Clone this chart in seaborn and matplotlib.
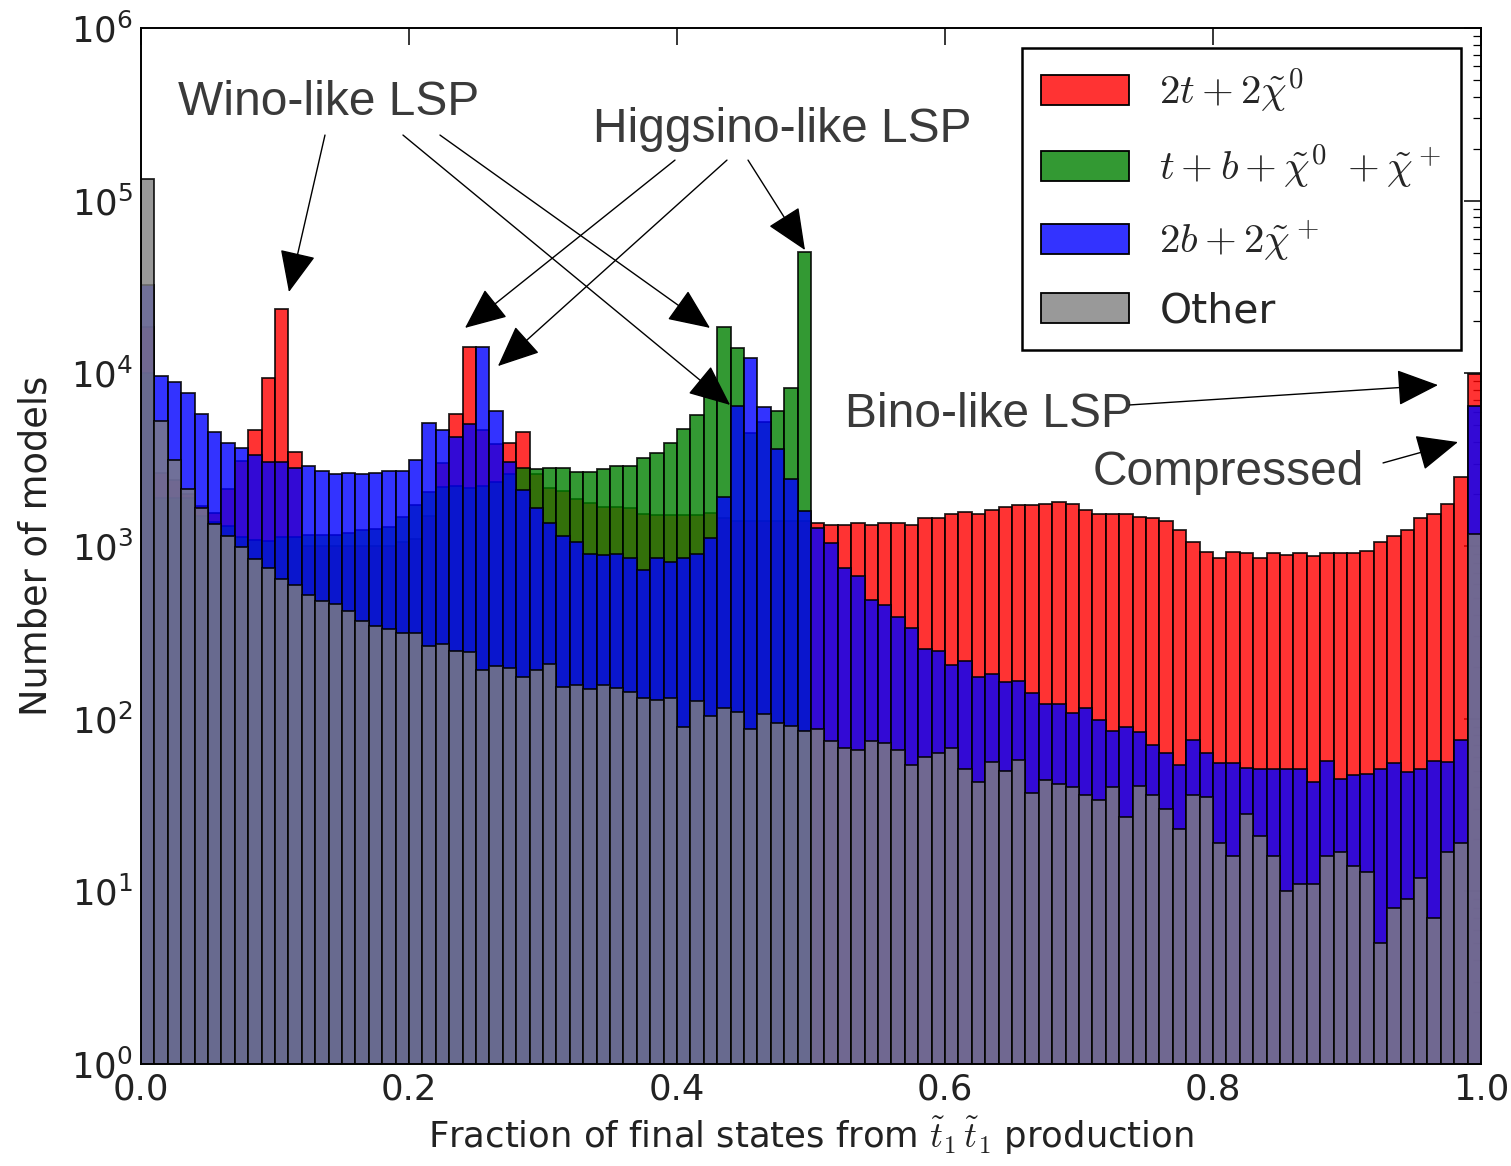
import numpy as np
import pandas as pd
import matplotlib
matplotlib.use("Agg")
import matplotlib.pyplot as plt
from matplotlib.patches import Patch
from matplotlib.colors import to_rgba
import seaborn as sns

# 100 equal bins over the stop-pair fraction
n_bins = 100
bin_edges = np.linspace(0.0, 1.0, n_bins + 1)
bin_centers = 0.5 * (bin_edges[:-1] + bin_edges[1:])

# Number of models per bin for each final-state class
counts_2t = [
    18600, 2640, 2400, 2000, 1700, 1560, 2130, 3120, 4700, 9440,
    23500, 3510, 1000, 1000, 1000, 1000, 1000, 1000, 1000, 1050,
    1100, 1500, 3030, 5800, 14200, 4700, 3875, 3940, 4590, 2600,
    2170, 2090, 1860, 1786, 1683, 1683, 1650, 1531, 1508, 1508,
    1508, 1508, 1545, 1450, 1400, 1400, 1400, 1400, 1400, 1400,
    1364, 1331, 1331, 1364, 1331, 1364, 1364, 1331, 1452, 1452,
    1531, 1566, 1531, 1615, 1683, 1720, 1720, 1760, 1788, 1760,
    1615, 1531, 1531, 1531, 1475, 1450, 1396, 1242, 1057, 927,
    857, 927, 905, 857, 905, 890, 905, 870, 905, 905,
    905, 940, 1057, 1141, 1242, 1450, 1531, 1760, 2495, 9960,
]
counts_tb = [
    10000, 1900, 1900, 1900, 1500, 1383, 1300, 1125, 1080, 1065,
    1125, 1125, 1155, 1155, 1155, 1194, 1238, 1250, 1294, 1466,
    1727, 2065, 2190, 2230, 2170, 2230, 2350, 2600, 2845, 2800,
    2845, 2845, 2690, 2690, 2800, 2910, 2910, 3245, 3450, 3970,
    4780, 5700, 7310, 18500, 14100, 4530, 5200, 6070, 8210, 50600,
] + [0] * 50
counts_2b = [
    32600, 9660, 8870, 7660, 5800, 4590, 3970, 3675, 3375, 3075,
    3075, 2845, 2890, 2735, 2610, 2630, 2610, 2630, 2735, 2735,
    3150, 5160, 4700, 4290, 5090, 14200, 6030, 3075, 2120, 1655,
    1364, 1142, 1057, 904, 891, 904, 857, 723, 857, 812,
    857, 904, 1109, 1932, 6450, 12190, 6410, 3650, 2440, 1592,
    1263, 1041, 745, 670, 487, 454, 386, 333, 254, 248,
    205, 216, 175, 182, 163, 166, 141, 121, 121, 108,
    115, 98, 85, 89, 84, 70, 63, 54, 75, 63,
    55, 55, 52, 51, 51, 51, 51, 43, 57, 45,
    47, 48, 51, 55, 49, 51, 57, 56, 75, 6510,
]
counts_other = [
    134000, 5280, 3150, 2150, 1655, 1343, 1142, 986, 838, 745,
    644, 591, 519, 480, 461, 418, 366, 345, 330, 313,
    313, 262, 272, 248, 243, 192, 202, 197, 175, 192,
    208, 152, 156, 148, 156, 150, 142, 131, 129, 131,
    89, 127, 104, 115, 110, 87, 106, 94, 91, 85,
    87, 74, 68, 66, 74, 72, 66, 54, 60, 63,
    68, 51, 43, 56, 50, 58, 37, 44, 42, 40,
    36, 34, 40, 27, 41, 36, 30, 23, 36, 35,
    19, 16, 28, 21, 16, 10, 11, 11, 16, 17,
    14, 13, 5, 8, 9, 12, 7, 17, 19, 1170,
]

series_labels = [
    r"$2t+2\tilde{\chi}^0$",
    r"$t+b+\tilde{\chi}^0\ +\tilde{\chi}^+$",
    r"$2b+2\tilde{\chi}^+$",
    "Other",
]
series_counts = [counts_2t, counts_tb, counts_2b, counts_other]
series_colors = ["red", "green", "blue", "grey"]

sns.set_style("white")
plt.rcParams["font.family"] = ["DejaVu Sans"]
plt.rcParams["mathtext.fontset"] = "cm"

fig = plt.figure(figsize=(15.11, 11.66), dpi=100)
ax = fig.add_axes([141 / 1511, 1 - 1064 / 1166, 1340 / 1511, 1036 / 1166])

for counts, color in zip(series_counts, series_colors):
    frame = pd.DataFrame({"fraction": bin_centers, "models": counts})
    sns.histplot(
        data=frame, x="fraction", weights="models",
        bins=n_bins, binrange=(0.0, 1.0), ax=ax,
        color=color, alpha=0.8, element="bars", fill=True,
        edgecolor=(0, 0, 0, 0.85), linewidth=1.3,
    )

ax.set_yscale("log")
ax.set_xlim(0, 1)
ax.set_ylim(1, 1e6)
ax.set_xticks(np.arange(0, 1.01, 0.2))
ax.set_xlabel(r"Fraction of final states from $\tilde{t}_1\,\tilde{t}_1$ production",
              fontsize=25.5, color="#222222", labelpad=6)
ax.set_ylabel("Number of models", fontsize=26.5, color="#222222", labelpad=12)

for sp in ax.spines.values():
    sp.set_color("black")
    sp.set_linewidth(1.4)
ax.tick_params(which="both", direction="in", top=True, right=True,
               colors="black", labelcolor="#222222")
ax.tick_params(which="major", length=12, width=1.1, labelsize=25.5, pad=6)
ax.tick_params(which="minor", length=6, width=0.9)

handles = [Patch(facecolor=to_rgba(c, 0.8), edgecolor="black", linewidth=1.3)
           for c in series_colors]
leg = ax.legend(handles, series_labels, loc="upper right", fontsize=29.5,
                frameon=True, fancybox=False, framealpha=1,
                handlelength=2.15, handleheight=0.75, handletextpad=0.75,
                labelspacing=0.68, borderpad=0.45, borderaxespad=0.5)
leg.get_frame().set_edgecolor("black")
leg.get_frame().set_linewidth(1.8)

# Region labels and the arrows pointing at their features
note_style = dict(family="Liberation Sans", fontsize=34.5, color="#3a3a3a")
arrow_style = dict(arrowstyle="-|>,head_length=0.8,head_width=0.35",
                   mutation_scale=33, color="black", lw=1.0,
                   shrinkA=0, shrinkB=0)

ax.text(0.0276, 10 ** 5.496, "Wino-like LSP", ha="left", va="baseline", **note_style)
ax.text(0.3373, 10 ** 5.340, "Higgsino-like LSP", ha="left", va="baseline", **note_style)
ax.text(0.5254, 10 ** 3.689, "Bino-like LSP", ha="left", va="baseline", **note_style)
ax.text(0.7104, 10 ** 3.353, "Compressed", ha="left", va="baseline", **note_style)

arrows = [
    ((0.1373, 5.380), (0.1104, 4.471)),
    ((0.1955, 5.380), (0.4396, 3.817)),
    ((0.2231, 5.380), (0.4246, 4.263)),
    ((0.3985, 5.235), (0.2418, 4.263)),
    ((0.4373, 5.235), (0.2664, 4.042)),
    ((0.4530, 5.235), (0.4955, 4.714)),
    ((0.7380, 3.817), (0.9679, 3.932)),
    ((0.9269, 3.481), (0.9828, 3.602)),
]
for (x0, l0), (x1, l1) in arrows:
    ax.annotate("", xy=(x1, 10 ** l1), xytext=(x0, 10 ** l0),
                arrowprops=arrow_style)

fig.savefig("out.png", dpi=100)
